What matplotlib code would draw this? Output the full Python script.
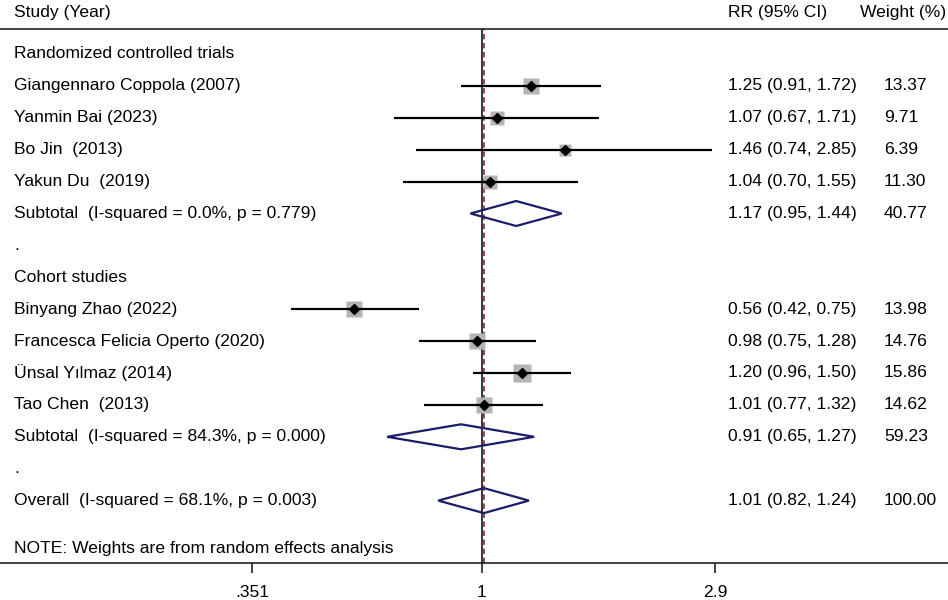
import numpy as np
import matplotlib
matplotlib.use("Agg")
import matplotlib.pyplot as plt
from matplotlib.patches import Polygon

plt.rcParams['font.family'] = ['Liberation Sans', 'DejaVu Sans']

# ---- data ----
rct_studies = ["Giangennaro Coppola (2007)", "Yanmin Bai (2023)", "Bo Jin  (2013)", "Yakun Du  (2019)"]
rct_rr = [1.25, 1.07, 1.46, 1.04]
rct_lo = [0.91, 0.67, 0.74, 0.70]
rct_hi = [1.72, 1.71, 2.85, 1.55]
rct_w = [13.37, 9.71, 6.39, 11.30]
rct_sub = (1.17, 0.95, 1.44, 40.77)
rct_sub_label = "Subtotal  (I-squared = 0.0%, p = 0.779)"

coh_studies = ["Binyang Zhao (2022)", "Francesca Felicia Operto (2020)", "Ünsal Yılmaz (2014)", "Tao Chen  (2013)"]
coh_rr = [0.56, 0.98, 1.20, 1.01]
coh_lo = [0.42, 0.75, 0.96, 0.77]
coh_hi = [0.75, 1.28, 1.50, 1.32]
coh_w = [13.98, 14.76, 15.86, 14.62]
coh_sub = (0.91, 0.65, 1.27, 59.23)
coh_sub_label = "Subtotal  (I-squared = 84.3%, p = 0.000)"

overall = (1.01, 0.82, 1.24, 100.00)
overall_label = "Overall  (I-squared = 68.1%, p = 0.003)"

xticks = [0.351, 1, 2.9]
xtick_labels = [".351", "1", "2.9"]

# ---- figure ----
W, H = 948, 600
fig = plt.figure(figsize=(W / 100, H / 100), dpi=100)
top_px, bot_px = 29, 563
ax = fig.add_axes([0, (H - bot_px) / H, 1, (bot_px - top_px) / H])

px_per_log = 219.5
x1_px = 481.7
ax.set_xscale('log')
ax.set_xlim(np.exp((0 - x1_px) / px_per_log), np.exp((W - x1_px) / px_per_log))

row0_px, row_step = 54.0, 31.9
ax.set_ylim((bot_px - row0_px) / row_step, (top_px - row0_px) / row_step)

fs = 12.6
for s in ['left', 'right']:
    ax.spines[s].set_visible(False)
for s in ['top', 'bottom']:
    ax.spines[s].set_linewidth(1.2)
    ax.spines[s].set_color('#222222')
ax.set_yticks([])
ax.set_xticks(xticks)
ax.set_xticklabels(xtick_labels)
ax.minorticks_off()
ax.tick_params(axis='x', which='major', length=7.5, width=1.2, direction='out',
               labelsize=fs, pad=8, color='#222222')

# vertical reference lines
ax.axvline(1, color='black', lw=1.1, zorder=1)
ax.axvline(overall[0], color='#8b3a4a', lw=1.3, ls=(0, (3, 2)), zorder=1)

ytr = ax.get_yaxis_transform()
left_x = 14 / W
rr_x = 728 / W
w_x = 884 / W
k_side = 4.4 * 0.72  # points per sqrt(weight)

def study(y, name, rr, lo, hi, w):
    ax.plot([rr], [y], marker='s', ms=k_side * np.sqrt(w), color='#b4b4b4', mec='none', zorder=2)
    ax.plot([lo, hi], [y, y], color='black', lw=1.6, solid_capstyle='butt', zorder=3)
    ax.plot([rr], [y], marker='D', ms=4.9, color='black', zorder=4)
    ax.text(left_x, y, name, transform=ytr, va='center', ha='left', fontsize=fs)
    ax.text(rr_x, y, f"{rr:.2f} ({lo:.2f}, {hi:.2f})", transform=ytr, va='center', ha='left', fontsize=fs)
    ax.text(w_x, y, f"{w:.2f}", transform=ytr, va='center', ha='left', fontsize=fs)

def diamond(y, label, vals):
    rr, lo, hi, w = vals
    h = 12.5 / row_step
    poly = Polygon([(lo, y), (rr, y - h), (hi, y), (rr, y + h)], closed=True,
                   fill=False, edgecolor='#1c1c6b', lw=1.6, zorder=4)
    ax.add_patch(poly)
    ax.text(left_x, y, label, transform=ytr, va='center', ha='left', fontsize=fs)
    ax.text(rr_x, y, f"{rr:.2f} ({lo:.2f}, {hi:.2f})", transform=ytr, va='center', ha='left', fontsize=fs)
    ax.text(w_x, y, f"{w:.2f}", transform=ytr, va='center', ha='left', fontsize=fs)

# headers
hy = (12 - row0_px) / row_step
ax.text(left_x, hy, "Study (Year)", transform=ytr, va='center', ha='left', fontsize=fs, clip_on=False)
ax.text(rr_x, hy, "RR (95% CI)", transform=ytr, va='center', ha='left', fontsize=fs, clip_on=False)
ax.text(860 / W, hy, "Weight (%)", transform=ytr, va='center', ha='left', fontsize=fs, clip_on=False)

row = 0
ax.text(left_x, row, "Randomized controlled trials", transform=ytr, va='center', ha='left', fontsize=fs)
row += 1
for i in range(len(rct_studies)):
    study(row, rct_studies[i], rct_rr[i], rct_lo[i], rct_hi[i], rct_w[i])
    row += 1
diamond(row, rct_sub_label, rct_sub)
row += 1
ax.text(left_x, row, ".", transform=ytr, va='center', ha='left', fontsize=fs)
row += 1
ax.text(left_x, row, "Cohort studies", transform=ytr, va='center', ha='left', fontsize=fs)
row += 1
for i in range(len(coh_studies)):
    study(row, coh_studies[i], coh_rr[i], coh_lo[i], coh_hi[i], coh_w[i])
    row += 1
diamond(row, coh_sub_label, coh_sub)
row += 1
ax.text(left_x, row, ".", transform=ytr, va='center', ha='left', fontsize=fs)
row += 1
diamond(row, overall_label, overall)
row += 1.5
ax.text(left_x, row, "NOTE: Weights are from random effects analysis", transform=ytr,
        va='center', ha='left', fontsize=fs)

fig.savefig("out.png", dpi=100)
